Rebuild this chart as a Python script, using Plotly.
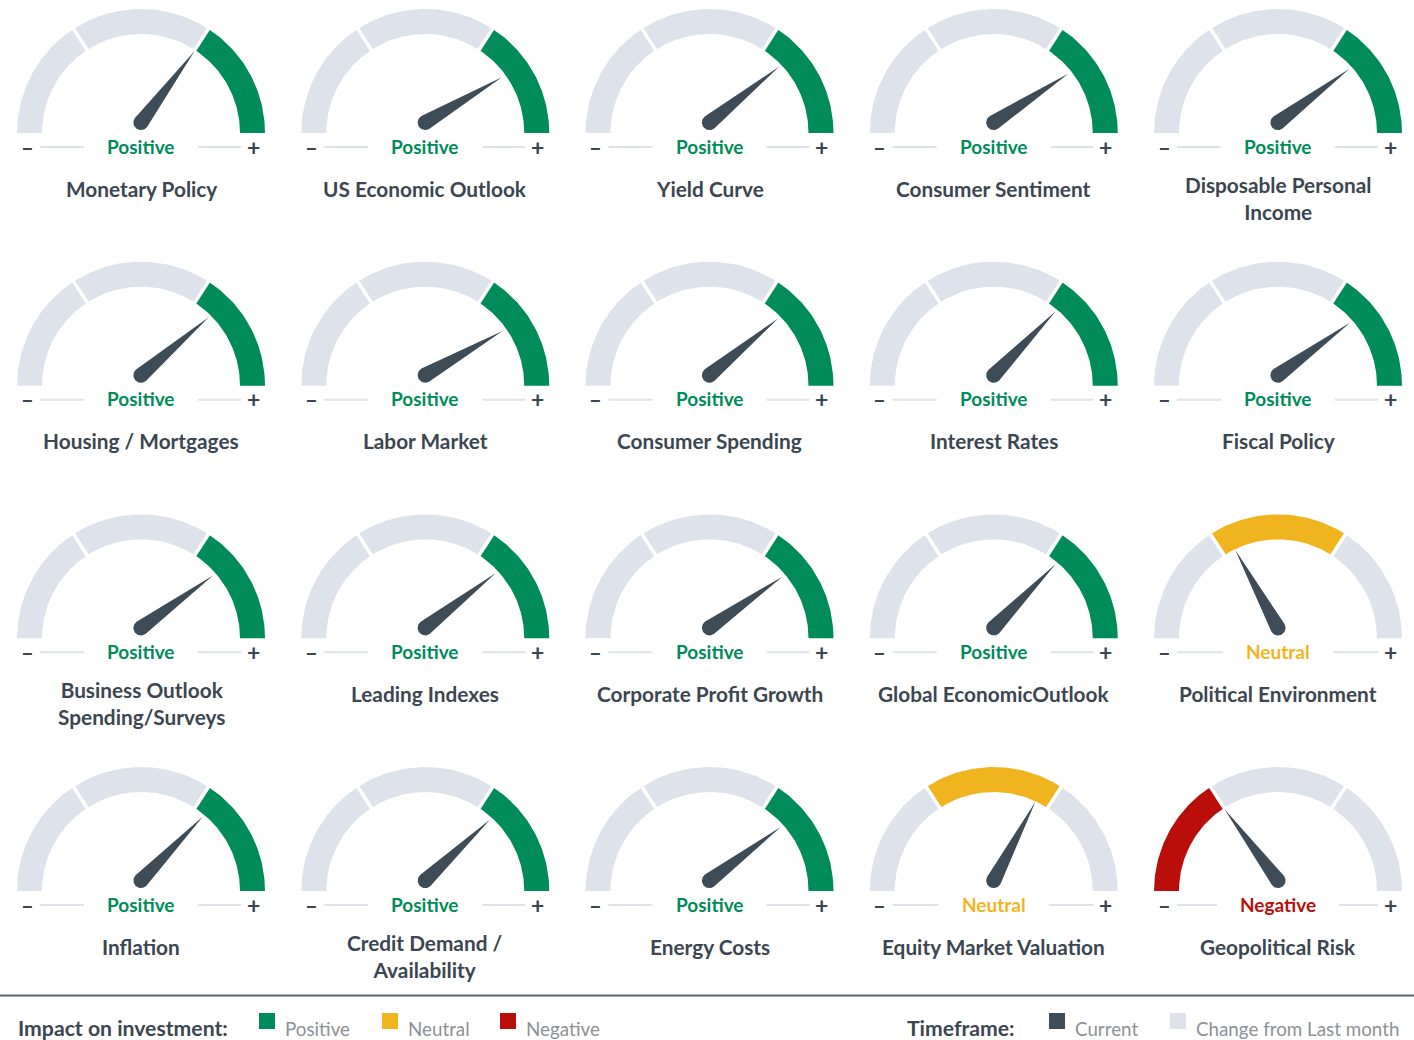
import numpy as np
import plotly.graph_objects as go

# ---- indicator data -------------------------------------------------------
TITLES = [
    "Monetary Policy", "US Economic Outlook", "Yield Curve", "Consumer Sentiment",
    "Disposable Personal\nIncome",
    "Housing / Mortgages", "Labor Market", "Consumer Spending", "Interest Rates", "Fiscal Policy",
    "Business Outlook\nSpending/Surveys", "Leading Indexes", "Corporate Profit Growth",
    "Global EconomicOutlook", "Political Environment",
    "Inflation", "Credit Demand /\nAvailability", "Energy Costs", "Equity Market Valuation",
    "Geopolitical Risk",
]
STATUS = ["Positive"] * 14 + ["Neutral"] + ["Positive"] * 3 + ["Neutral", "Negative"]
# needle reading on a 0 (–) .. 100 (+) scale
READING = [70.5, 83, 78.5, 81.5, 79.5,
           77.5, 83.5, 78, 74.5, 80,
           80, 79, 80.5, 74.5, 34,
           74.5, 76, 79.5, 65.5, 29.5]

# zone limits on the same 0..100 scale
ZONES = ["Negative", "Neutral", "Positive"]
ZONE_EDGES = [0, 31.7, 68.3, 100]

LEGEND_IMPACT = ["Positive", "Neutral", "Negative"]
LEGEND_TIME = ["Current", "Change from Last month"]

# ---- styling -------------------------------------------------------------
GRAY = "#dee2ea"
COLORS = {"Positive": "#008c5a", "Neutral": "#f0b51e", "Negative": "#b90e0a"}
NEEDLE = "#3e4c58"
TEXT = "#3b4651"
LEGEND_TEXT = "#8c9196"
FONT = "Lato"

W, H = 1414, 1040
NCOL = 5
COL_X0, COL_DX = 141, 284.25
ROW_Y0, ROW_DY = 133, 252.67
R_OUT, R_IN = 124, 99
NEEDLE_LEN, NEEDLE_BASE, PIVOT_UP = 89, 7.6, 10.5
LABEL_HALF = {"Positive": 57, "Neutral": 55, "Negative": 61}


def ang(v):
    return np.pi * (1 - v / 100.0)


def band(cx, cy, v0, v1, n=60):
    t = np.linspace(ang(v0), ang(v1), n)
    xs = np.concatenate([cx + R_OUT * np.cos(t), cx + R_IN * np.cos(t[::-1])])
    ys = np.concatenate([cy - R_OUT * np.sin(t), cy - R_IN * np.sin(t[::-1])])
    return list(xs) + [xs[0], None], list(ys) + [ys[0], None]


def needle(cx, cy, v):
    t = ang(v)
    px, py = cx, cy - PIVOT_UP
    back = np.linspace(t + np.pi / 2, t + 3 * np.pi / 2, 30)
    xs = list(px + NEEDLE_BASE * np.cos(back)) + [px + NEEDLE_LEN * np.cos(t)]
    ys = list(py - NEEDLE_BASE * np.sin(back)) + [py - NEEDLE_LEN * np.sin(t)]
    return xs + [xs[0], None], ys + [ys[0], None]


fig = go.Figure()
seg = {k: ([], []) for k in ["gray"] + ZONES}
gaps_x, gaps_y = [], []
nd_x, nd_y = [], []
ln_x, ln_y = [], []
ann = []

for i, (title, status, val) in enumerate(zip(TITLES, STATUS, READING)):
    r, c = divmod(i, NCOL)
    cx = COL_X0 + c * COL_DX
    cy = ROW_Y0 + r * ROW_DY

    for z, (a, b) in zip(ZONES, zip(ZONE_EDGES[:-1], ZONE_EDGES[1:])):
        key = z if z == status else "gray"
        bx, by = band(cx, cy, a, b)
        seg[key][0].extend(bx)
        seg[key][1].extend(by)

    for e in ZONE_EDGES[1:-1]:
        t = ang(e)
        gaps_x += [cx + (R_IN - 3) * np.cos(t), cx + (R_OUT + 3) * np.cos(t), None]
        gaps_y += [cy - (R_IN - 3) * np.sin(t), cy - (R_OUT + 3) * np.sin(t), None]

    nx, ny = needle(cx, cy, val)
    nd_x += nx
    nd_y += ny

    ly = cy + 14
    half = LABEL_HALF[status]
    ln_x += [cx - 101, cx - half, None, cx + half, cx + 100, None]
    ln_y += [ly, ly, None, ly, ly, None]

    ann.append(dict(x=cx - 114, y=ly, text="–", font=dict(size=22, color=TEXT, family=FONT, weight="bold")))
    ann.append(dict(x=cx + 112, y=ly - 0.5, text="+", font=dict(size=23, color=TEXT, family=FONT, weight="bold")))
    ann.append(dict(x=cx, y=ly - 1, text=status,
                    font=dict(size=19, color=COLORS[status], family=FONT, weight="bold")))
    lines = title.split("\n")
    ann.append(dict(x=cx, y=cy + 55 + 10 * (len(lines) - 1), text="<br>".join(lines),
                    font=dict(size=20.8, color=TEXT, family=FONT, weight="bold")))

poly = dict(mode="lines", fill="toself", line=dict(width=0), hoverinfo="skip", showlegend=False)
fig.add_trace(go.Scatter(x=seg["gray"][0], y=seg["gray"][1], fillcolor=GRAY, **poly))
for z in ZONES:
    if seg[z][0]:
        fig.add_trace(go.Scatter(x=seg[z][0], y=seg[z][1], fillcolor=COLORS[z], **poly))
fig.add_trace(go.Scatter(x=gaps_x, y=gaps_y, mode="lines", line=dict(color="white", width=3.5),
                         hoverinfo="skip", showlegend=False))
fig.add_trace(go.Scatter(x=nd_x, y=nd_y, fillcolor=NEEDLE, **poly))
fig.add_trace(go.Scatter(x=ln_x, y=ln_y, mode="lines", line=dict(color=GRAY, width=2),
                         hoverinfo="skip", showlegend=False))

# ---- footer legend -------------------------------------------------------
fig.add_trace(go.Scatter(x=[0, W], y=[995.5, 995.5], mode="lines", line=dict(color="#5b6670", width=2),
                         hoverinfo="skip", showlegend=False))
LEG_Y = 1028
SQ_Y = 1021
ann.append(dict(x=16, y=LEG_Y, text="Impact on investment:", xanchor="left",
                font=dict(size=21.2, color=TEXT, family=FONT, weight="bold")))
impact_x = [267, 390, 508]
fig.add_trace(go.Scatter(x=impact_x, y=[SQ_Y] * 3, mode="markers",
                         marker=dict(symbol="square", size=16, color=[COLORS[k] for k in LEGEND_IMPACT]),
                         hoverinfo="skip", showlegend=False))
for x0, lab in zip(impact_x, LEGEND_IMPACT):
    ann.append(dict(x=x0 + 16, y=LEG_Y, text=lab, xanchor="left",
                    font=dict(size=18.8, color=LEGEND_TEXT, family=FONT)))

ann.append(dict(x=905, y=LEG_Y, text="Timeframe:", xanchor="left",
                font=dict(size=21.2, color=TEXT, family=FONT, weight="bold")))
time_x = [1057, 1178]
fig.add_trace(go.Scatter(x=time_x, y=[SQ_Y] * 2, mode="markers",
                         marker=dict(symbol="square", size=16, color=[NEEDLE, GRAY]),
                         hoverinfo="skip", showlegend=False))
for x0, lab in zip(time_x, LEGEND_TIME):
    ann.append(dict(x=x0 + 16, y=LEG_Y, text=lab, xanchor="left",
                    font=dict(size=18.8, color=LEGEND_TEXT, family=FONT)))

for a in ann:
    a.setdefault("xanchor", "center")
    a.update(xref="x", yref="y", showarrow=False, yanchor="middle")

fig.update_layout(
    width=W, height=H,
    margin=dict(l=0, r=0, t=0, b=0),
    paper_bgcolor="white", plot_bgcolor="white",
    xaxis=dict(range=[0, W], visible=False, fixedrange=True),
    yaxis=dict(range=[H, 0], visible=False, fixedrange=True),
    annotations=ann,
    showlegend=False,
)
fig.write_html("out.html", config={"displayModeBar": False})
